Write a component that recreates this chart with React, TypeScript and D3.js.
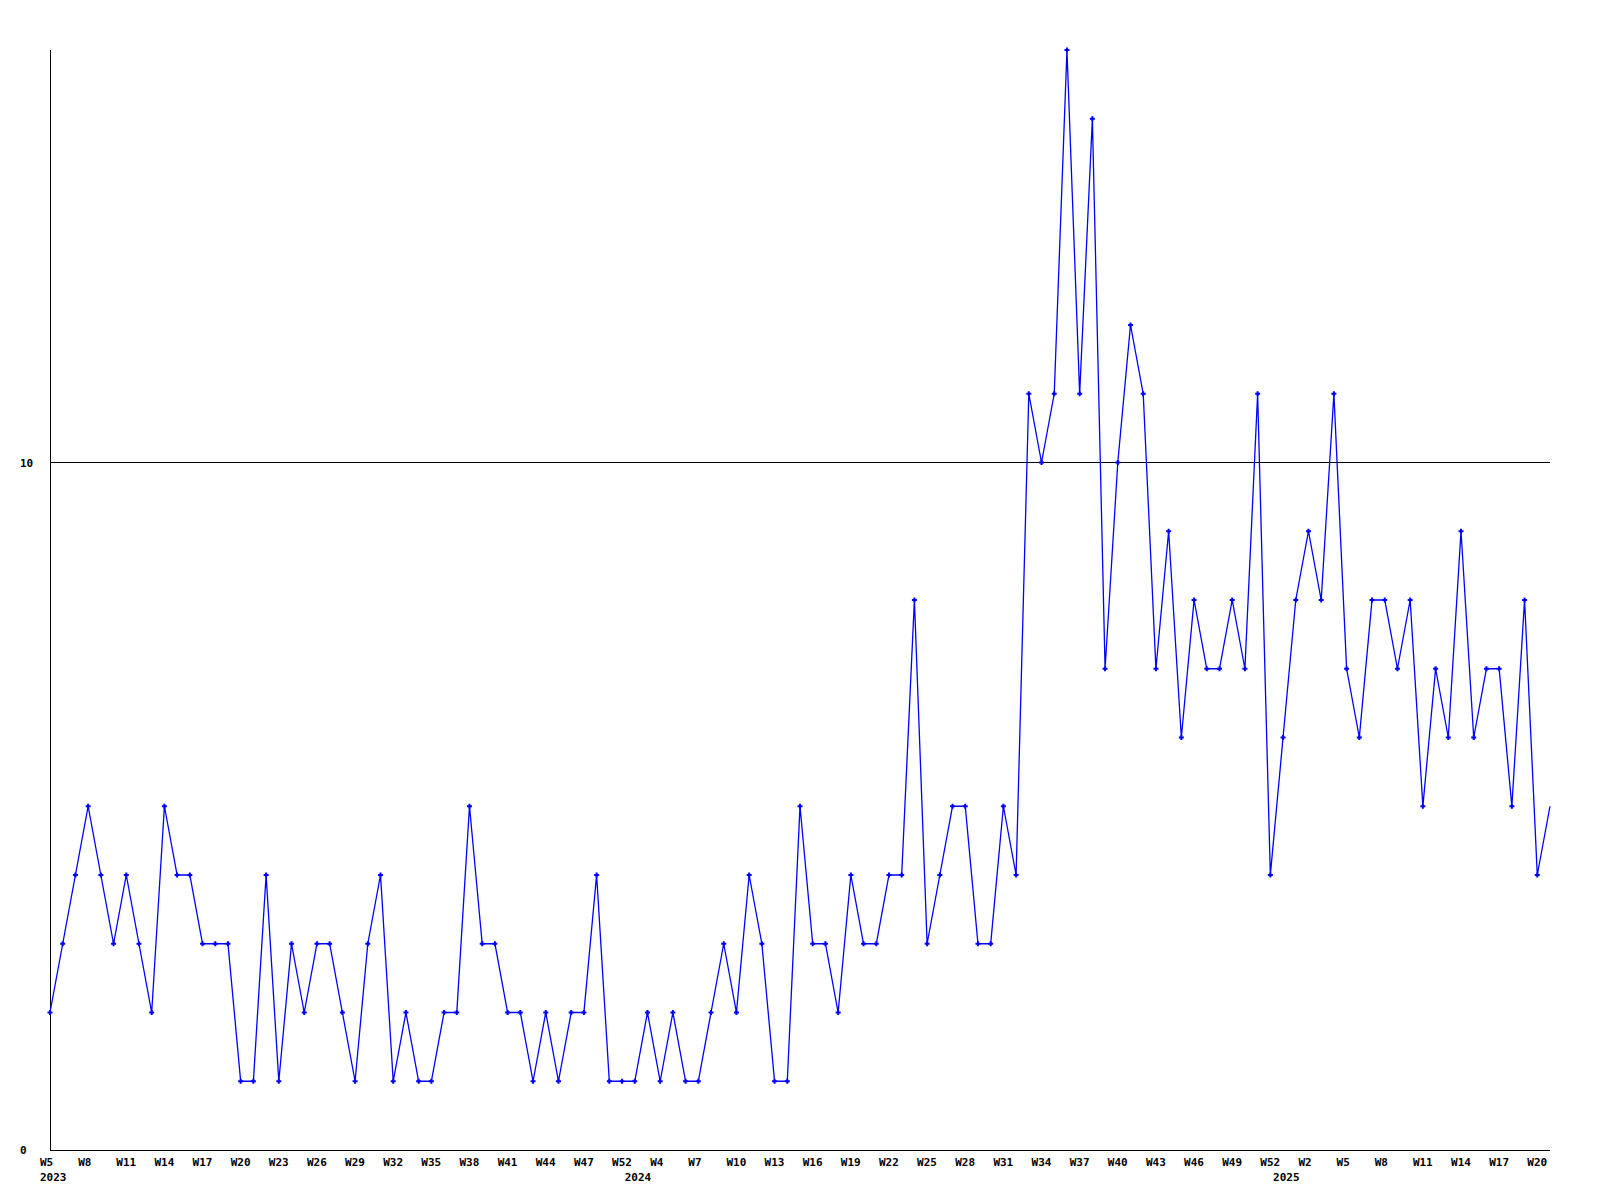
import React from "react";
import * as d3 from "d3";

const values: number[] = [
  2, 3, 4, 5, 4, 3, 4, 3, 2, 5,
  4, 4, 3, 3, 3, 1, 1, 4, 1, 3,
  2, 3, 3, 2, 1, 3, 4, 1, 2, 1,
  1, 2, 2, 5, 3, 3, 2, 2, 1, 2,
  1, 2, 2, 4, 1, 1, 1, 2, 1, 2,
  1, 1, 2, 3, 2, 4, 3, 1, 1, 5,
  3, 3, 2, 4, 3, 3, 4, 4, 8, 3,
  4, 5, 5, 3, 3, 5, 4, 11, 10, 11,
  16, 11, 15, 7, 10, 12, 11, 7, 9, 6,
  8, 7, 7, 8, 7, 11, 4, 6, 8, 9,
  8, 11, 7, 6, 8, 8, 7, 8, 5, 7,
  6, 9, 6, 7, 7, 5, 8, 4, 5,
];

const tickLabels: string[] = [
  "W5", "W8", "W11", "W14", "W17", "W20", "W23", "W26", "W29", "W32",
  "W35", "W38", "W41", "W44", "W47", "W52", "W4", "W7", "W10", "W13",
  "W16", "W19", "W22", "W25", "W28", "W31", "W34", "W37", "W40", "W43",
  "W46", "W49", "W52", "W2", "W5", "W8", "W11", "W14", "W17", "W20",
];
const tickEvery = 3;

const yearLabels: string[] = ["2023", "2024", "2025"];
const yearIndex: number[] = [0, 46, 97];

const yTicks: number[] = [0, 10];
const gridValues: number[] = [10];

export default function App() {
  const left = 50, right = 1550, top = 50, bottom = 1150;
  const x = d3.scaleLinear().domain([0, values.length - 1]).range([left, right]);
  const y = d3.scaleLinear().domain([0, 16]).range([bottom, top]);
  const line = d3.line<number>().x((_, i) => x(i)).y((d) => y(d));
  const font = "'DejaVu Sans Mono', monospace";
  return (
    <svg
      width={1600}
      height={1200}
      style={{ position: "absolute", left: 0, top: 0, background: "#fff" }}
    >
      <rect x={0} y={0} width={1600} height={1200} fill="#fff" />
      {gridValues.map((g) => (
        <line key={g} x1={left} x2={right} y1={Math.floor(y(g)) + 0.5} y2={Math.floor(y(g)) + 0.5} stroke="#000" strokeWidth={1} />
      ))}
      <line x1={left + 0.5} x2={left + 0.5} y1={top} y2={bottom} stroke="#000" strokeWidth={1} />
      <line x1={left} x2={right} y1={bottom + 0.5} y2={bottom + 0.5} stroke="#000" strokeWidth={1} />
      <path d={line(values) || ""} fill="none" stroke="#0000ff" strokeWidth={1.3} />
      {values.slice(0, values.length - 1).map((v, i) => (
        <path
          key={i}
          d={`M${x(i) - 2.5},${y(v)}H${x(i) + 2.5}M${x(i)},${y(v) - 2.5}V${y(v) + 2.5}`}
          stroke="#0000ff"
          strokeWidth={2}
          fill="none"
        />
      ))}
      {yTicks.map((t) => (
        <text key={t} x={20} y={y(t) + 4} fontFamily={font} fontWeight="bold" fontSize={11} fill="#000">
          {t}
        </text>
      ))}
      {tickLabels.map((lab, k) => (
        <text
          key={k}
          x={x(k * tickEvery) - 10}
          y={1166}
          fontFamily={font}
          fontWeight="bold"
          fontSize={11}
          fill="#000"
        >
          {lab}
        </text>
      ))}
      {yearLabels.map((lab, k) => (
        <text
          key={lab}
          x={x(yearIndex[k]) - 10}
          y={1181}
          fontFamily={font}
          fontWeight="bold"
          fontSize={11}
          fill="#000"
        >
          {lab}
        </text>
      ))}
    </svg>
  );
}
